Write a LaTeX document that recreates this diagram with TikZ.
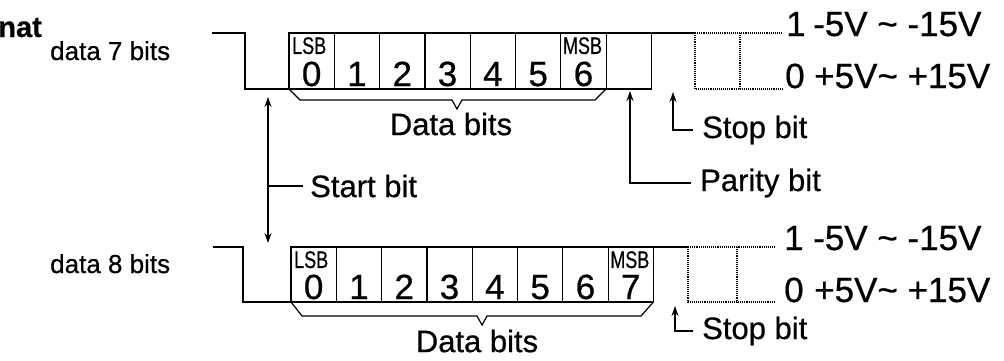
\documentclass[tikz,border=0pt]{standalone}
\usepackage{fontspec}
\setmainfont{Liberation Sans}[FakeBold=0.6]
\usepackage{graphicx}
\usetikzlibrary{arrows.meta,calc,positioning}

\newcommand{\labelsize}{\fontsize{31}{31}\selectfont}
\newcommand{\digitsize}{\fontsize{35}{35}\selectfont}
\newcommand{\tagsize}{\fontsize{24}{24}\selectfont}
\newcommand{\voltsize}{\fontsize{35}{35}\selectfont}
\newcommand{\framesize}{\fontsize{26}{26}\selectfont}
\newcommand{\bittag}[1]{\scalebox{0.75}[1]{#1}}

\begin{document}
\begin{tikzpicture}[
  x=1pt, y=-1pt,
  >={Stealth[length=10pt,width=7pt]},
  wave/.style={line width=1.4pt, line join=miter},
  ghost/.style={line width=1.1pt, densely dotted},
  bitcell/.style={draw, line width=1.2pt, anchor=north west, minimum width=45.3pt,
                  minimum height=56pt, inner sep=0pt, outer sep=0pt},
  bitnum/.style={font=\digitsize, anchor=base, inner sep=0pt},
  bittagnode/.style={font=\tagsize, anchor=north west, inner sep=0pt},
  note/.style={font=\labelsize, anchor=west, inner sep=0pt},
  volt/.style={font=\voltsize, anchor=base west, inner sep=0pt},
  pointer/.style={->, line width=1.2pt},
  bitbrace/.style={line width=1.2pt, line join=miter}
]
\useasboundingbox (0,0) rectangle (1004,360);

% heading and frame names
\node[font=\fontsize{29}{29}\selectfont\bfseries, anchor=base east, inner sep=0pt]
  (ttl) at (42,37) {nat};
\node[font=\framesize, anchor=base west, inner sep=0pt] (f7) at (50,60) {data 7 bits};
\node[font=\framesize, anchor=base west, inner sep=0pt] (f8) at (50,273) {data 8 bits};

% 7-bit frame
\foreach \i in {0,...,7}
  \node[bitcell] (u\i) at ({289+45.3*\i},33) {};
\foreach \i in {0,...,6}
  \node[bitnum] (un\i) at ($(u\i.south)+(0,-3)$) {\i};
\node[bittagnode] (lsbu) at ($(u0.north west)+(3,4)$) {\bittag{LSB}};
\node[bittagnode] (msbu) at ($(u6.north west)+(2,4)$) {\bittag{MSB}};
\draw[wave] (212,33) -- (245,33) -- (245,89) -- (u0.south west);
\draw[wave] (u7.north east) -- (695,33);
\draw[ghost] (695,33) -- (783,33);
\draw[ghost] (695,33) -- (695,89) -- (783,89);
\draw[ghost] (740,33) -- (740,89);
\draw[bitbrace] (u0.south west) -- ++(11,11) -- (452,100) -- (457,109) -- (462,100)
  -- (595,100) -- (u6.south east);
\node[note, anchor=center] (dbu) at (451,124) {Data bits};

\node[volt] (hi1) at (786,36) {1};
\node[volt] (hiv1) at (813,36) {-5V \textasciitilde{} -15V};
\node[volt] (lo1) at (785,88) {0};
\node[volt] (lov1) at (814,88) {+5V\textasciitilde{} +15V};

% 8-bit frame
\foreach \i in {0,...,7}
  \node[bitcell, minimum height=55pt] (l\i) at ({291+45.3*\i},247) {};
\foreach \i in {0,...,7}
  \node[bitnum] (ln\i) at ($(l\i.south)+(0,-3)$) {\i};
\node[bittagnode] (lsbl) at ($(l0.north west)+(3,4)$) {\bittag{LSB}};
\node[bittagnode] (msbl) at ($(l7.north west)+(2,4)$) {\bittag{MSB}};
\draw[wave] (213,247) -- (243,247) -- (243,302) -- (l0.south west);
\draw[wave] (l7.north east) -- (688,247);
\draw[ghost] (688,247) -- (775,247);
\draw[ghost] (688,247) -- (688,302) -- (775,302);
\draw[ghost] (737,247) -- (737,302);
\draw[bitbrace] (l0.south west) -- ++(11,14) -- (477,316) -- (482,325) -- (487,316)
  -- (641,316) -- (l7.south east);
\node[note, anchor=center] (dbl) at (477,341) {Data bits};

\node[volt] (hi2) at (784,250) {1};
\node[volt] (hiv2) at (813,250) {-5V \textasciitilde{} -15V};
\node[volt] (lo2) at (784,302) {0};
\node[volt] (lov2) at (814,302) {+5V\textasciitilde{} +15V};

% start, parity and stop pointers
\coordinate (st1) at (268,97);
\coordinate (st2) at (268,243);
\draw[pointer, <->] (st1) -- (st2);
\node[note] (start) at (310,186) {Start bit};
\draw[line width=1.2pt] (st1 |- start.west) -- ([xshift=-7pt]start.west);

\coordinate (ptip) at (630,91);
\node[note] (parity) at (700,183) {Parity bit};
\draw[pointer] ([xshift=-9pt]parity.west) -| (ptip);

\coordinate (s1tip) at (673,92);
\node[note] (stopu) at (702,130) {Stop bit};
\draw[pointer] ([xshift=-9pt]stopu.west) -| (s1tip);

\coordinate (s2tip) at (675,306);
\node[note] (stopl) at (702,331) {Stop bit};
\draw[pointer] ([xshift=-9pt]stopl.west) -| (s2tip);
\end{tikzpicture}
\end{document}
